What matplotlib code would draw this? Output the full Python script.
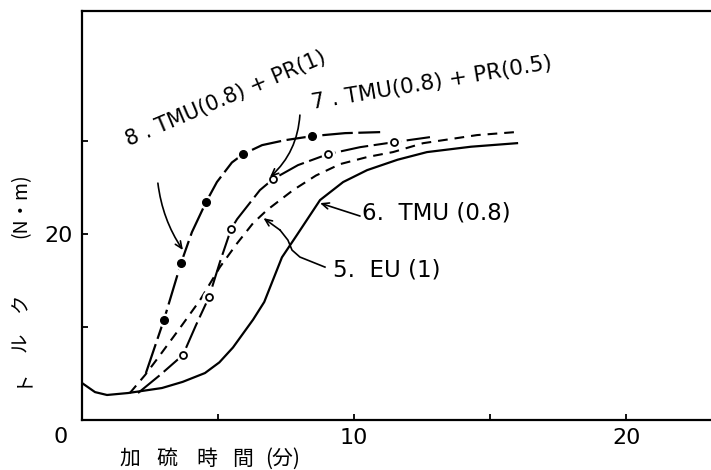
import matplotlib
matplotlib.use("Agg")
import matplotlib.pyplot as plt

# =================================
# DATA
# =================================

# 6. TMU(0.8) - solid
t6 = [0.0, 0.48, 0.92, 1.69, 2.94, 3.70, 4.52, 5.05, 5.55, 6.29, 6.70, 7.35, 7.90, 8.75, 9.60, 10.48, 11.60, 12.68, 14.30, 15.99]
m6 = [3.98, 3.00, 2.69, 2.90, 3.44, 4.10, 5.05, 6.20, 7.80, 10.80, 12.70, 17.50, 19.90, 23.66, 25.60, 26.88, 28.00, 28.82, 29.40, 29.78]

# 5. EU(1) - dashed
t5 = [1.76, 2.32, 2.79, 3.60, 4.34, 5.07, 5.70, 6.29, 6.80, 7.76, 8.60, 9.49, 10.50, 11.43, 12.54, 14.52, 15.92]
m5 = [2.90, 4.84, 6.67, 9.89, 12.90, 16.45, 19.00, 21.18, 22.58, 24.73, 26.30, 27.53, 28.30, 28.82, 29.78, 30.65, 30.97]

# 7. TMU(0.8) + PR(0.5) - open circles
t7 = [2.06, 2.87, 3.71, 4.19, 4.67, 5.07, 5.48, 5.70, 6.54, 7.02, 7.94, 9.04, 10.22, 11.47, 12.79]
m7 = [2.90, 4.84, 6.99, 10.20, 13.23, 16.99, 20.54, 21.60, 24.73, 25.91, 27.42, 28.60, 29.35, 29.89, 30.43]
t7_pts = [3.71, 4.67, 5.48, 7.02, 9.04, 11.47]
m7_pts = [6.99, 13.23, 20.54, 25.91, 28.60, 29.89]

# 8. TMU(0.8) + PR(1) - filled circles
t8 = [2.35, 3.01, 3.64, 4.04, 4.56, 4.96, 5.51, 5.92, 6.62, 7.46, 8.46, 9.67, 10.96]
m8 = [5.05, 10.75, 16.88, 20.20, 23.44, 25.60, 27.70, 28.60, 29.57, 30.10, 30.54, 30.86, 30.97]
t8_pts = [3.01, 3.64, 4.56, 5.92, 8.46]
m8_pts = [10.75, 16.88, 23.44, 28.60, 30.54]

x_ticks = [5, 10, 15, 20]
x_tick_labels = ["", "10", "", "20"]
y_ticks = [10, 20, 30]
y_tick_labels = ["", "20", ""]

# axis titles, written spaced out piece by piece like the original
x_title_parts = ["加", "硫", "時", "間", "(分)"]
y_title_parts = ["ト", "ル", "ク", "(N・m)"]

# =================================
# FIGURE
# =================================

plt.rcParams["lines.scale_dashes"] = False
cjk = ["Noto Sans CJK JP", "DejaVu Sans"]

fig = plt.figure(figsize=(7.11, 4.70), dpi=100)
ax = fig.add_axes([0.1153, 0.1064, 0.8847, 0.8702])

ax.set_xlim(0, 23.12)
ax.set_ylim(0, 44.0)

# curves
ax.plot(t6, m6, color="black", lw=1.6)
ax.plot(t5, m5, color="black", lw=1.5, dashes=(7, 5))
ax.plot(t7, m7, color="black", lw=1.5, dashes=(20, 4))
ax.plot(t8, m8, color="black", lw=1.6, dashes=(22, 4))

# marker gaps (white halo) and markers
ax.plot(t7_pts, m7_pts, "o", ms=9, color="white", zorder=3)
ax.plot(t8_pts, m8_pts, "o", ms=9, color="white", zorder=3)
ax.plot(t7_pts, m7_pts, "o", ms=5, mfc="white", mec="black", mew=1.3, zorder=4)
ax.plot(t8_pts, m8_pts, "o", ms=5.5, color="black", zorder=4)

# =================================
# LABELS AND LEADERS
# =================================

arrow = dict(arrowstyle="->,head_length=0.5,head_width=0.22", lw=1.2, color="black", shrinkA=0, shrinkB=0)

ax.text(5.29, 34.6, "8 . TMU(0.8) + PR(1)", rotation=23, rotation_mode="anchor",
        ha="center", va="center", fontsize=15)
ax.annotate("", xy=(3.71, 18.28), xytext=(2.79, 25.48),
            arrowprops=dict(arrow, connectionstyle="arc3,rad=0.12"))

ax.text(12.85, 36.2, "7 . TMU(0.8) + PR(0.5)", rotation=9.5, rotation_mode="anchor",
        ha="center", va="center", fontsize=15.5)
ax.annotate("", xy=(6.91, 26.13), xytext=(8.01, 32.8),
            arrowprops=dict(arrow, connectionstyle="arc3,rad=-0.2"))

ax.text(10.29, 22.26, "6.  TMU (0.8)", ha="left", va="center", fontsize=16.5)
ax.annotate("", xy=(8.75, 23.33), xytext=(10.22, 21.94), arrowprops=arrow)

ax.text(9.23, 16.13, "5.  EU (1)", ha="left", va="center", fontsize=16.5)
leader5_x = [8.93, 8.01, 7.72, 7.57, 7.28]
leader5_y = [16.45, 17.53, 18.28, 19.35, 20.43]
ax.plot(leader5_x, leader5_y, color="black", lw=1.2)
ax.annotate("", xy=(6.67, 21.72), xytext=(7.28, 20.43), arrowprops=arrow)

# =================================
# AXES STYLE
# =================================

for side in ["left", "bottom", "top"]:
    ax.spines[side].set_linewidth(1.6)
ax.spines["right"].set_visible(False)

ax.set_xticks(x_ticks)
ax.set_xticklabels(x_tick_labels)
ax.set_yticks(y_ticks)
ax.set_yticklabels(y_tick_labels)
ax.tick_params(direction="in", length=4, width=1.3, labelsize=16, pad=6)
ax.tick_params(axis="y", pad=7)

ax.text(-0.8, -0.042, "0", transform=ax.get_xaxis_transform(),
        ha="center", va="center", fontsize=16)

# axis titles
x_title_pos = [130, 167, 207, 243, 283]
for part, px in zip(x_title_parts, x_title_pos):
    fig.text(px / 711, 1 - 459 / 470, part, family=cjk, fontsize=15,
             ha="center", va="center")

y_title_pos = [377, 342, 303, 206]
for part, py in zip(y_title_parts, y_title_pos):
    fig.text(21 / 711, 1 - py / 470, part, family=cjk, fontsize=14,
             rotation=90, ha="center", va="center")

fig.savefig("out.png", dpi=100)
